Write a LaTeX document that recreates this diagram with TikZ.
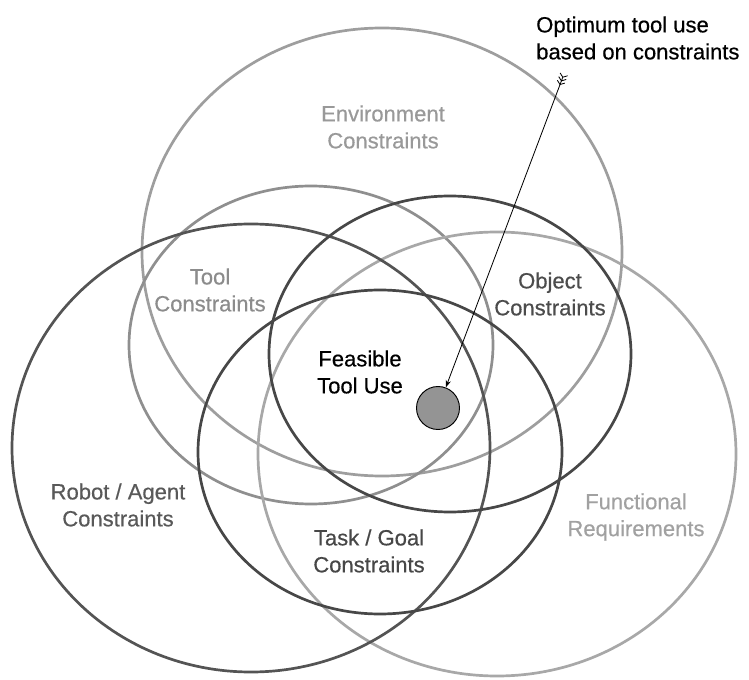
\documentclass[tikz,border=0pt]{standalone}
\usepackage{fontspec}
\setmainfont{Liberation Sans}
\newfontfamily\labelfont{Liberation Sans}[FakeBold=0.5]
\usetikzlibrary{arrows.meta}
\definecolor{envline}{gray}{0.62}
\definecolor{toolline}{gray}{0.56}
\definecolor{funcline}{gray}{0.66}
\definecolor{robotline}{gray}{0.33}
\definecolor{objline}{gray}{0.28}
\definecolor{taskline}{gray}{0.28}
\tikzset{
  set line/.style={line width=2.3pt},
  set label/.style={align=center,inner sep=0pt,font=\labelfont\fontsize{18.8}{23}\selectfont},
  opt spot/.style={circle,draw=black,line width=0.8pt,fill=black!42,minimum size=1.29cm,inner sep=0pt},
  opt arrow/.style={{Straight Barb[reversed,length=0.9mm,width=2.4mm]Straight Barb[reversed,length=0.9mm,width=2.4mm]Straight Barb[reversed,length=0.9mm,width=2.4mm]}-{Stealth[length=2.2mm,width=1.6mm]},line width=0.7pt},
}
\begin{document}
\begin{tikzpicture}[x=0.03cm,y=-0.03cm]
  \useasboundingbox (0,0) rectangle (749,680);
  % the six constraint sets
  \foreach \cx/\cy/\rx/\ry/\col in {382/252/240/224/envline,311/345/182/159/toolline,497/454/239/222/funcline,251/448/239/224/robotline,450/354/181/158/objline,380/452/182/162/taskline}{
    \draw[set line,draw=\col] (\cx,\cy) ellipse [x radius=\rx, y radius=\ry];
  }
  \node[set label,text=black!40] (env) at (383,127) {Environment\\Constraints};
  \node[set label,text=black!45] (tool) at (210,290) {Tool\\Constraints};
  \node[set label,text=black!70] (obj) at (550,294) {Object\\Constraints};
  \node[set label,text=black!65] (robot) at (118,505) {Robot / Agent\\Constraints};
  \node[set label,text=black!72] (task) at (369,551) {Task / Goal\\Constraints};
  \node[set label,text=black!37] (func) at (636,517) {Functional\\Requirements};
  \node[set label,text=black] (feas) at (360,372) {Feasible\\Tool Use};
  % optimum
  \node[opt spot] (opt) at (438,408) {};
  \node[set label,align=left,anchor=west] (optlabel) at (536,38) {Optimum tool use\\based on constraints};
  \coordinate (tail) at (564,74);
  \draw[opt arrow] (tail) -- (opt);
\end{tikzpicture}
\end{document}
